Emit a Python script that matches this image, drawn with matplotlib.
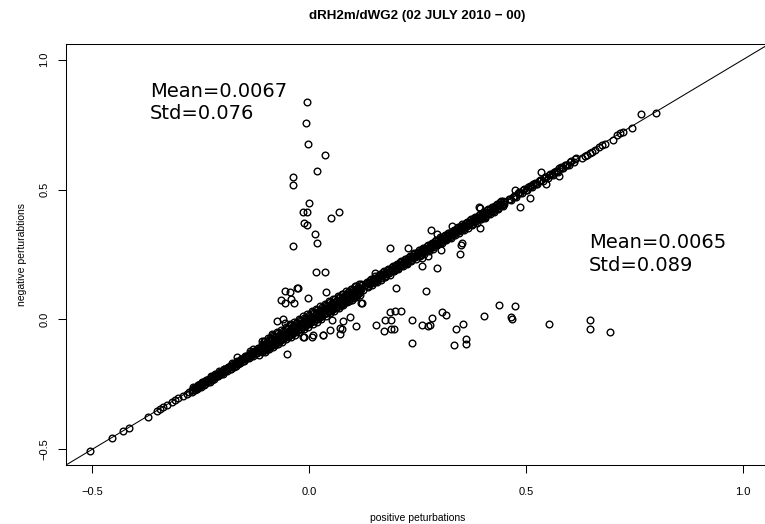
import matplotlib
matplotlib.use("Agg")
import matplotlib.pyplot as plt

# sparse points along the diagonal, lower end
tail_lo_x = [-0.505, -0.454, -0.429, -0.414, -0.372, -0.351, -0.343, -0.336, -0.328,
             -0.316, -0.309, -0.301, -0.290, -0.282, -0.276]
tail_lo_y = [-0.507, -0.455, -0.431, -0.418, -0.374, -0.352, -0.345, -0.337, -0.330,
             -0.318, -0.311, -0.304, -0.293, -0.285, -0.278]

# dense core of the cloud (read as tracks across the band)
band_x = [
    # lower part
    -0.270, -0.260, -0.250, -0.240, -0.230, -0.220, -0.210, -0.200, -0.190, -0.180, -0.170, -0.160, -0.150, -0.140, -0.130, -0.120,
    -0.267, -0.257, -0.247, -0.237, -0.227, -0.217, -0.207, -0.197, -0.187, -0.177, -0.167, -0.157, -0.147, -0.137, -0.127, -0.117,
    -0.263, -0.253, -0.243, -0.233, -0.223, -0.213, -0.203, -0.193, -0.183, -0.173, -0.163, -0.153, -0.143, -0.133, -0.123, -0.113,
    # thick middle
    -0.110, -0.100, -0.090, -0.080, -0.070, -0.060, -0.050, -0.040, -0.030, -0.020, -0.010, 0.000, 0.010, 0.020, 0.030, 0.040, 0.050, 0.060, 0.070, 0.080, 0.090, 0.100, 0.110, 0.120,
    -0.108, -0.098, -0.088, -0.078, -0.068, -0.058, -0.048, -0.038, -0.028, -0.018, -0.008, 0.002, 0.012, 0.022, 0.032, 0.042, 0.052, 0.062, 0.072, 0.082, 0.092, 0.102, 0.112, 0.122,
    -0.106, -0.096, -0.086, -0.076, -0.066, -0.056, -0.046, -0.036, -0.026, -0.016, -0.006, 0.004, 0.014, 0.024, 0.034, 0.044, 0.054, 0.064, 0.074, 0.084, 0.094, 0.104, 0.114, 0.124,
    -0.104, -0.094, -0.084, -0.074, -0.064, -0.054, -0.044, -0.034, -0.024, -0.014, -0.004, 0.006, 0.016, 0.026, 0.036, 0.046, 0.056, 0.066, 0.076, 0.086, 0.096, 0.106, 0.116,
    -0.102, -0.092, -0.082, -0.072, -0.062, -0.052, -0.042, -0.032, -0.022, -0.012, -0.002, 0.008, 0.018, 0.028, 0.038, 0.048, 0.058, 0.068, 0.078, 0.088, 0.098, 0.108, 0.118,
    # upper part
    0.130, 0.140, 0.150, 0.160, 0.170, 0.180, 0.190, 0.200, 0.210, 0.220, 0.230, 0.240, 0.250, 0.260, 0.270, 0.280, 0.290,
    0.300, 0.310, 0.320, 0.330, 0.340, 0.350, 0.360, 0.370, 0.380, 0.390, 0.400, 0.410, 0.420, 0.430, 0.440, 0.450,
    0.133, 0.143, 0.153, 0.163, 0.173, 0.183, 0.193, 0.203, 0.213, 0.223, 0.233, 0.243, 0.253, 0.263, 0.273, 0.283,
    0.293, 0.303, 0.313, 0.323, 0.333, 0.343, 0.353, 0.363, 0.373, 0.383, 0.393, 0.403, 0.413, 0.423, 0.433, 0.443,
    0.136, 0.146, 0.156, 0.166, 0.176, 0.186, 0.196, 0.206, 0.216, 0.226, 0.236, 0.246, 0.256, 0.266, 0.276, 0.286,
    0.296, 0.306, 0.316, 0.326, 0.336, 0.346, 0.356, 0.366, 0.376, 0.386, 0.396, 0.406, 0.416, 0.426, 0.436, 0.446,
    # thinning top
    0.460, 0.472, 0.484, 0.496, 0.508, 0.520, 0.532, 0.544, 0.556, 0.568, 0.580, 0.592, 0.604, 0.616,
    0.466, 0.478, 0.490, 0.502, 0.514, 0.526, 0.538, 0.550, 0.562, 0.574, 0.586, 0.598, 0.610,
]
band_y = [
    -0.271, -0.259, -0.251, -0.241, -0.229, -0.221, -0.209, -0.201, -0.191, -0.179, -0.171, -0.161, -0.149, -0.141, -0.131, -0.119,
    -0.259, -0.251, -0.239, -0.231, -0.219, -0.211, -0.199, -0.189, -0.181, -0.169, -0.159, -0.151, -0.139, -0.128, -0.120, -0.109,
    -0.271, -0.259, -0.251, -0.240, -0.231, -0.219, -0.211, -0.200, -0.189, -0.181, -0.170, -0.161, -0.149, -0.141, -0.130, -0.121,
    -0.109, -0.101, -0.089, -0.081, -0.069, -0.061, -0.049, -0.041, -0.029, -0.021, -0.009, 0.001, 0.011, 0.019, 0.031, 0.039, 0.051, 0.059, 0.071, 0.079, 0.091, 0.099, 0.111, 0.119,
    -0.095, -0.087, -0.075, -0.067, -0.055, -0.047, -0.035, -0.027, -0.015, -0.007, 0.005, 0.013, 0.025, 0.033, 0.045, 0.053, 0.065, 0.073, 0.085, 0.093, 0.105, 0.113, 0.125, 0.133,
    -0.119, -0.107, -0.099, -0.087, -0.079, -0.067, -0.059, -0.047, -0.039, -0.027, -0.019, -0.007, 0.001, 0.013, 0.021, 0.033, 0.041, 0.053, 0.061, 0.073, 0.081, 0.093, 0.101, 0.113,
    -0.082, -0.072, -0.061, -0.050, -0.039, -0.029, -0.019, -0.008, 0.002, 0.012, 0.022, 0.032, 0.042, 0.051, 0.061, 0.070, 0.079, 0.089, 0.098, 0.108, 0.118, 0.128, 0.138,
    -0.124, -0.115, -0.105, -0.096, -0.087, -0.077, -0.067, -0.058, -0.048, -0.038, -0.028, -0.018, -0.008, 0.002, 0.013, 0.023, 0.034, 0.044, 0.055, 0.066, 0.076, 0.086, 0.096,
    0.131, 0.139, 0.151, 0.159, 0.171, 0.179, 0.191, 0.199, 0.211, 0.219, 0.231, 0.239, 0.251, 0.259, 0.271, 0.279, 0.291,
    0.299, 0.311, 0.319, 0.331, 0.339, 0.351, 0.359, 0.371, 0.379, 0.391, 0.399, 0.411, 0.419, 0.431, 0.439, 0.451,
    0.146, 0.154, 0.166, 0.174, 0.186, 0.194, 0.206, 0.214, 0.226, 0.234, 0.246, 0.254, 0.266, 0.274, 0.286, 0.294,
    0.306, 0.314, 0.326, 0.334, 0.346, 0.354, 0.366, 0.374, 0.385, 0.394, 0.404, 0.414, 0.424, 0.434, 0.444, 0.454,
    0.125, 0.133, 0.145, 0.153, 0.165, 0.173, 0.185, 0.193, 0.205, 0.213, 0.225, 0.233, 0.245, 0.253, 0.265, 0.273,
    0.285, 0.293, 0.305, 0.313, 0.325, 0.333, 0.345, 0.353, 0.365, 0.373, 0.385, 0.394, 0.405, 0.415, 0.425, 0.435,
    0.465, 0.477, 0.489, 0.501, 0.513, 0.525, 0.537, 0.549, 0.561, 0.573, 0.585, 0.596, 0.608, 0.620,
    0.461, 0.473, 0.485, 0.497, 0.509, 0.521, 0.533, 0.545, 0.557, 0.569, 0.581, 0.593, 0.606,
]

# more of the core, filling between the tracks above
fill_x = [
    -0.265, -0.255, -0.245, -0.235, -0.225, -0.215, -0.205, -0.195, -0.185, -0.175, -0.165, -0.155, -0.145, -0.135, -0.125, -0.115,
    -0.268, -0.258, -0.248, -0.238, -0.228, -0.218, -0.208, -0.198, -0.188, -0.178, -0.168, -0.158, -0.148, -0.138, -0.128, -0.118,
    -0.261, -0.251, -0.241, -0.231, -0.221, -0.211, -0.201, -0.191, -0.181, -0.171, -0.161, -0.151, -0.141, -0.131, -0.121, -0.111,
    -0.269, -0.259, -0.249, -0.239, -0.229, -0.219, -0.209, -0.199, -0.189, -0.179, -0.169, -0.159, -0.149, -0.139, -0.129, -0.119,
    -0.105, -0.095, -0.085, -0.075, -0.065, -0.055, -0.045, -0.035, -0.025, -0.015, -0.005, 0.005, 0.015, 0.025, 0.035, 0.045, 0.055, 0.065, 0.075, 0.085, 0.095, 0.105, 0.115,
    -0.103, -0.093, -0.083, -0.073, -0.063, -0.053, -0.043, -0.033, -0.023, -0.013, -0.003, 0.007, 0.017, 0.027, 0.037, 0.047, 0.057, 0.067, 0.077, 0.087, 0.097, 0.107, 0.117,
    -0.101, -0.091, -0.081, -0.071, -0.061, -0.051, -0.041, -0.031, -0.021, -0.011, -0.001, 0.009, 0.019, 0.029, 0.039, 0.049, 0.059, 0.069, 0.079, 0.089, 0.099, 0.109, 0.119,
    -0.109, -0.099, -0.089, -0.079, -0.069, -0.059, -0.049, -0.039, -0.029, -0.019, -0.009, 0.001, 0.011, 0.021, 0.031, 0.041, 0.051, 0.061, 0.071, 0.081, 0.091, 0.101, 0.111,
    -0.107, -0.097, -0.087, -0.077, -0.067, -0.057, -0.047, -0.037, -0.027, -0.017, -0.007, 0.003, 0.013, 0.023, 0.033, 0.043, 0.053, 0.063, 0.073, 0.083, 0.093, 0.103, 0.113,
    -0.105, -0.095, -0.085, -0.075, -0.065, -0.055, -0.045, -0.035, -0.025, -0.015, -0.005, 0.005, 0.015, 0.025, 0.035, 0.045, 0.055, 0.065, 0.075, 0.085, 0.095, 0.105, 0.115,
    0.128, 0.138, 0.148, 0.158, 0.168, 0.178, 0.188, 0.198, 0.208, 0.218, 0.228, 0.238, 0.248, 0.258, 0.268, 0.278, 0.288,
    0.298, 0.308, 0.318, 0.328, 0.338, 0.348, 0.358, 0.368, 0.378, 0.388, 0.398, 0.408, 0.418, 0.428, 0.438, 0.448,
    0.135, 0.145, 0.155, 0.165, 0.175, 0.185, 0.195, 0.205, 0.215, 0.225, 0.235, 0.245, 0.255, 0.265, 0.275, 0.285,
    0.295, 0.305, 0.315, 0.325, 0.335, 0.345, 0.355, 0.365, 0.375, 0.385, 0.395, 0.405, 0.415, 0.425, 0.435, 0.445,
    0.131, 0.141, 0.151, 0.161, 0.171, 0.181, 0.191, 0.201, 0.211, 0.221, 0.231, 0.241, 0.251, 0.261, 0.271, 0.281,
    0.291, 0.301, 0.311, 0.321, 0.331, 0.341, 0.351, 0.361, 0.371, 0.381, 0.391, 0.401, 0.411, 0.421, 0.431, 0.441,
    0.139, 0.149, 0.159, 0.169, 0.179, 0.189, 0.199, 0.209, 0.219, 0.229, 0.239, 0.249, 0.259, 0.269, 0.279, 0.289,
    0.299, 0.309, 0.319, 0.329, 0.339, 0.349, 0.359, 0.369, 0.379, 0.389, 0.399, 0.409, 0.419, 0.429, 0.439, 0.449,
    0.463, 0.475, 0.487, 0.499, 0.511, 0.523, 0.535, 0.547, 0.559, 0.571, 0.583, 0.595,
    0.469, 0.481, 0.493, 0.505, 0.517, 0.529, 0.541, 0.553, 0.565, 0.577, 0.589, 0.601, 0.613,
]
fill_y = [
    -0.262, -0.252, -0.242, -0.232, -0.222, -0.212, -0.202, -0.192, -0.182, -0.172, -0.162, -0.152, -0.142, -0.132, -0.122, -0.112,
    -0.272, -0.262, -0.252, -0.242, -0.232, -0.222, -0.212, -0.202, -0.192, -0.182, -0.172, -0.162, -0.152, -0.142, -0.132, -0.122,
    -0.259, -0.249, -0.239, -0.229, -0.219, -0.209, -0.199, -0.189, -0.179, -0.169, -0.159, -0.149, -0.139, -0.129, -0.119, -0.109,
    -0.279, -0.269, -0.259, -0.249, -0.239, -0.229, -0.219, -0.209, -0.199, -0.189, -0.179, -0.169, -0.159, -0.149, -0.139, -0.129,
    -0.099, -0.089, -0.079, -0.069, -0.059, -0.049, -0.039, -0.029, -0.019, -0.009, 0.001, 0.011, 0.021, 0.031, 0.041, 0.051, 0.061, 0.071, 0.081, 0.091, 0.101, 0.111, 0.121,
    -0.109, -0.099, -0.089, -0.079, -0.069, -0.059, -0.049, -0.039, -0.029, -0.019, -0.009, 0.001, 0.011, 0.021, 0.031, 0.041, 0.051, 0.061, 0.071, 0.081, 0.091, 0.101, 0.111,
    -0.083, -0.073, -0.063, -0.053, -0.043, -0.033, -0.023, -0.013, -0.003, 0.007, 0.017, 0.027, 0.037, 0.047, 0.057, 0.067, 0.077, 0.087, 0.097, 0.107, 0.117, 0.127, 0.137,
    -0.127, -0.117, -0.107, -0.097, -0.087, -0.077, -0.067, -0.057, -0.047, -0.037, -0.027, -0.017, -0.007, 0.003, 0.013, 0.023, 0.033, 0.043, 0.053, 0.063, 0.073, 0.083, 0.093,
    -0.104, -0.094, -0.084, -0.074, -0.064, -0.054, -0.044, -0.034, -0.024, -0.014, -0.004, 0.006, 0.016, 0.026, 0.036, 0.046, 0.056, 0.066, 0.076, 0.086, 0.096, 0.106, 0.116,
    -0.119, -0.109, -0.099, -0.089, -0.079, -0.069, -0.059, -0.049, -0.039, -0.029, -0.019, -0.009, 0.001, 0.011, 0.021, 0.031, 0.041, 0.051, 0.061, 0.071, 0.081, 0.091, 0.101,
    0.134, 0.144, 0.154, 0.164, 0.174, 0.184, 0.194, 0.204, 0.214, 0.224, 0.234, 0.244, 0.254, 0.264, 0.274, 0.284, 0.294,
    0.304, 0.314, 0.324, 0.334, 0.344, 0.354, 0.364, 0.374, 0.384, 0.394, 0.404, 0.414, 0.424, 0.434, 0.444, 0.454,
    0.129, 0.139, 0.149, 0.159, 0.169, 0.179, 0.189, 0.199, 0.209, 0.219, 0.229, 0.239, 0.249, 0.259, 0.269, 0.279,
    0.289, 0.299, 0.309, 0.319, 0.329, 0.339, 0.349, 0.359, 0.369, 0.379, 0.389, 0.399, 0.409, 0.419, 0.429, 0.439,
    0.141, 0.151, 0.161, 0.171, 0.181, 0.191, 0.201, 0.211, 0.221, 0.231, 0.241, 0.251, 0.261, 0.271, 0.281, 0.291,
    0.301, 0.311, 0.321, 0.331, 0.341, 0.351, 0.361, 0.371, 0.381, 0.391, 0.401, 0.411, 0.421, 0.431, 0.441, 0.451,
    0.136, 0.146, 0.156, 0.166, 0.176, 0.186, 0.196, 0.206, 0.216, 0.226, 0.236, 0.246, 0.256, 0.266, 0.276, 0.286,
    0.296, 0.306, 0.316, 0.326, 0.336, 0.346, 0.356, 0.366, 0.376, 0.386, 0.396, 0.406, 0.416, 0.426, 0.436, 0.446,
    0.463, 0.476, 0.487, 0.499, 0.512, 0.523, 0.535, 0.548, 0.559, 0.571, 0.584, 0.595,
    0.473, 0.485, 0.497, 0.509, 0.521, 0.533, 0.545, 0.557, 0.569, 0.581, 0.593, 0.605, 0.617,
]

# sparse points along the diagonal, upper end
tail_hi_x = [0.628, 0.636, 0.640, 0.647, 0.652, 0.659, 0.667, 0.674, 0.682, 0.700,
             0.709, 0.717, 0.724, 0.744, 0.764, 0.800]
tail_hi_y = [0.621, 0.630, 0.634, 0.640, 0.646, 0.653, 0.664, 0.670, 0.677, 0.690,
             0.709, 0.716, 0.722, 0.738, 0.791, 0.795]

# points off the diagonal
spray_x = [
    # spike near x = 0
    -0.005, -0.007, -0.002, 0.036, 0.018, -0.036, -0.038, 0.000, -0.014, -0.005, 0.070, 0.051,
    -0.012, -0.005, 0.014, 0.018, -0.038, 0.015, 0.036,
    # above the band
    0.187, 0.228, 0.280, 0.294, 0.269, 0.260, 0.200, 0.122, 0.039, -0.003, -0.026, -0.028, -0.055,
    -0.043, -0.065, -0.055, -0.042, -0.035, -0.074, -0.060, -0.055, 0.330, 0.393, 0.394, 0.348,
    0.352, 0.350, 0.151, 0.210, 0.294, 0.302, 0.304, 0.260, 0.275, 0.535, 0.575, 0.546, 0.475,
    0.508, 0.485, 0.392, 0.405, 0.120, -0.167,
    # below the band
    0.187, 0.199, 0.212, 0.175, 0.190, 0.155, 0.108, 0.173, 0.190, 0.195, 0.072, 0.238, 0.238,
    0.261, 0.279, 0.283, 0.307, 0.315, 0.048, 0.007, -0.012, 0.032, 0.438, 0.475, 0.404, 0.465,
    0.468, 0.553, 0.647, 0.647, 0.694, 0.355, 0.339, 0.333, 0.362, 0.362, 0.275,
    -0.051, -0.108, -0.093, -0.086, -0.130, -0.136, -0.116, 0.033, 0.071, 0.075, 0.079,
    0.094, 0.052, -0.013, 0.010,
]
spray_y = [
    0.837, 0.756, 0.675, 0.633, 0.573, 0.548, 0.519, 0.447, 0.414, 0.414, 0.414, 0.392,
    0.372, 0.363, 0.328, 0.293, 0.281, 0.183, 0.183,
    0.274, 0.275, 0.346, 0.197, 0.111, 0.206, 0.123, 0.064, 0.104, 0.082, 0.122, 0.123, 0.111,
    0.106, 0.075, 0.065, 0.077, 0.064, -0.005, 0.001, -0.015, 0.360, 0.428, 0.352, 0.251,
    0.295, 0.287, 0.179, 0.223, 0.328, 0.318, 0.267, 0.238, 0.246, 0.567, 0.551, 0.520, 0.497,
    0.469, 0.433, 0.431, 0.392, 0.063, -0.145,
    0.027, 0.031, 0.031, -0.003, -0.003, -0.023, -0.025, -0.046, -0.036, -0.036, -0.032, -0.003, -0.090,
    -0.023, -0.023, 0.005, 0.028, 0.018, -0.041, -0.067, -0.067, -0.060, 0.056, 0.052, 0.015, 0.008,
    0.002, -0.019, -0.003, -0.036, -0.048, -0.017, -0.036, -0.100, -0.077, -0.095, -0.026,
    -0.133, -0.082, -0.080, -0.054, -0.112, -0.122, -0.137, -0.058, -0.054, -0.035, -0.005,
    0.010, -0.003, -0.069, -0.060,
]

ticks = [-0.5, 0.0, 0.5, 1.0]
tick_labels = ["\u22120.5", "0.0", "0.5", "1.0"]
stats_neg = ["Mean=0.0067", "Std=0.076"]
stats_pos = ["Mean=0.0065", "Std=0.089"]

plt.rcParams["font.family"] = ["Liberation Sans", "DejaVu Sans"]

fig = plt.figure(figsize=(7.65, 5.24), dpi=100)
ax = fig.add_axes([0.0863, 0.1126, 0.919, 0.8034])

lims = (-0.56, 1.06)
ax.plot(lims, lims, color="black", lw=0.75)

circ = dict(ls="none", marker="o", ms=4.8, mfc="none", mec="black", mew=1.0)
for xs, ys in [(tail_lo_x, tail_lo_y), (band_x, band_y), (fill_x, fill_y),
               (tail_hi_x, tail_hi_y), (spray_x, spray_y)]:
    ax.plot(xs, ys, **circ)

ax.set_xlim(lims)
ax.set_ylim(lims)
ax.set_xticks(ticks)
ax.set_xticklabels(tick_labels, fontsize=8)
ax.set_yticks(ticks)
ax.set_yticklabels(tick_labels, fontsize=8, rotation=90, va="center")
ax.tick_params(direction="out", length=6, width=0.75)
ax.tick_params(axis="x", pad=9.5)
ax.tick_params(axis="y", pad=6)
for sp in ax.spines.values():
    sp.set_linewidth(0.75)

ax.set_xlabel("positive peturbations", fontsize=7.5, labelpad=12)
ax.set_ylabel("negative perturabtions", fontsize=7.5, labelpad=9)
ax.set_title("dRH2m/dWG2 (02 JULY 2010 \u2212 00)", fontsize=9.6, fontweight="bold", pad=17.8)

txt = dict(fontsize=14, family="DejaVu Sans", ha="left", va="baseline")
ax.text(-0.366, 0.858, stats_neg[0], **txt)
ax.text(-0.366, 0.770, stats_neg[1], **txt)
ax.text(0.645, 0.275, stats_pos[0], **txt)
ax.text(0.645, 0.187, stats_pos[1], **txt)

fig.savefig("out.png", dpi=100)
